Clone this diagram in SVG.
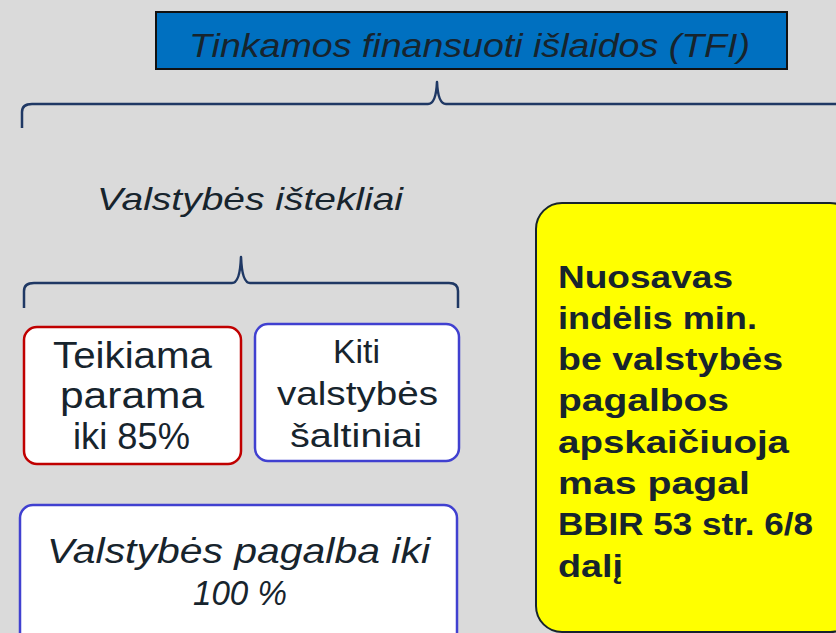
<svg xmlns="http://www.w3.org/2000/svg" width="836" height="633" viewBox="0 0 836 633">
<style>
  .t { font-family: "Liberation Sans", "DejaVu Sans", sans-serif; fill: #17242d; }
  .it { font-style: italic; }
  .brace { fill: none; stroke: #1f3864; stroke-width: 2.5; stroke-linejoin: round; }
  .box { fill: #ffffff; stroke-width: 2.5; }
</style>
<rect x="0" y="0" width="836" height="633" fill="#dadada"/>

<g id="tfi">
  <rect x="156" y="12" width="631" height="57" fill="#0070c0" stroke="#111111" stroke-width="2"/>
  <text class="t it" x="189" y="57" font-size="34" textLength="561" lengthAdjust="spacingAndGlyphs">Tinkamos finansuoti išlaidos (TFI)</text>
</g>

<g id="connectors">
  <path class="brace" d="M22,128 L22,112 Q22,104 32,104 L428,104 Q436,104 437,82 Q438,104 446,104 L840,104"/>
  <path class="brace" d="M24,308 L24,291 Q24,283 34,283 L232,283 Q240,283 241,257 Q242,283 250,283 L449,283 Q458,283 458,291 L458,308"/>
</g>

<g id="valstybes-istekliai">
  <text class="t it" x="97" y="210" font-size="32" textLength="306" lengthAdjust="spacingAndGlyphs">Valstybės ištekliai</text>
</g>

<g id="teikiama">
  <rect class="box" x="24" y="327" width="217" height="137" rx="13" stroke="#c00000"/>
  <text class="t" x="53" y="368" font-size="37" textLength="159" lengthAdjust="spacingAndGlyphs">Teikiama</text>
  <text class="t" x="60" y="408" font-size="37" textLength="144" lengthAdjust="spacingAndGlyphs">parama</text>
  <text class="t" x="73" y="449" font-size="37" textLength="117" lengthAdjust="spacingAndGlyphs">iki 85%</text>
</g>

<g id="kiti">
  <rect class="box" x="255" y="324" width="204" height="137" rx="13" stroke="#4040d0"/>
  <text class="t" x="333" y="363" font-size="33" textLength="47" lengthAdjust="spacingAndGlyphs">Kiti</text>
  <text class="t" x="277" y="405" font-size="33" textLength="161" lengthAdjust="spacingAndGlyphs">valstybės</text>
  <text class="t" x="290" y="447" font-size="33" textLength="132" lengthAdjust="spacingAndGlyphs">šaltiniai</text>
</g>

<g id="pagalba">
  <rect class="box" x="20" y="505" width="437" height="150" rx="13" stroke="#4040d0"/>
  <text class="t it" x="47" y="563" font-size="35" textLength="383" lengthAdjust="spacingAndGlyphs">Valstybės pagalba iki</text>
  <text class="t it" x="193" y="605" font-size="35" textLength="94" lengthAdjust="spacingAndGlyphs">100 %</text>
</g>

<g id="nuosavas">
  <rect x="536" y="203" width="320" height="429" rx="26" fill="#ffff00" stroke="#17242d" stroke-width="2"/>
  <g class="t" font-size="32" font-weight="bold">
    <text x="558" y="288" textLength="175" lengthAdjust="spacingAndGlyphs">Nuosavas</text>
    <text x="558" y="329" textLength="199" lengthAdjust="spacingAndGlyphs">indėlis min.</text>
    <text x="558" y="370" textLength="225" lengthAdjust="spacingAndGlyphs">be valstybės</text>
    <text x="558" y="411" textLength="171" lengthAdjust="spacingAndGlyphs">pagalbos</text>
    <text x="558" y="453" textLength="231" lengthAdjust="spacingAndGlyphs">apskaičiuoja</text>
    <text x="558" y="494" textLength="192" lengthAdjust="spacingAndGlyphs">mas pagal</text>
    <text x="558" y="535" textLength="255" lengthAdjust="spacingAndGlyphs">BBIR 53 str. 6/8</text>
    <text x="558" y="577" textLength="65" lengthAdjust="spacingAndGlyphs">dalį</text>
  </g>
</g>
</svg>
